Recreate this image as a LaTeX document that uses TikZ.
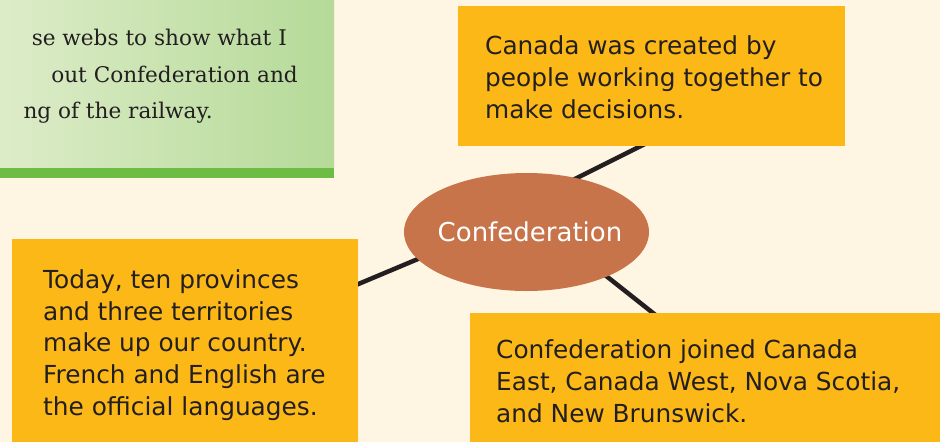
\documentclass[tikz,border=0pt]{standalone}
\usepackage{fontspec}
\setmainfont{DejaVu Serif}
\newfontfamily\boxfont{DejaVu Sans}
\usetikzlibrary{calc,backgrounds,shapes.geometric}
\definecolor{bg}{HTML}{FEF5E2}
\definecolor{amber}{HTML}{FCB817}
\definecolor{clay}{HTML}{C8744A}
\definecolor{ink}{HTML}{231F20}
\definecolor{greenL}{HTML}{DDECC8}
\definecolor{greenR}{HTML}{B5DA98}
\definecolor{bar}{HTML}{6DBD45}
\begin{document}
\begin{tikzpicture}[x=1pt,y=-1pt,
  card/.style={fill=amber, draw=none, anchor=north west, inner sep=0pt},
  cardtext/.style={font=\boxfont\fontsize{24.8}{31.6}\selectfont, text=ink, align=left, anchor=base west, inner sep=0pt},
  introtext/.style={font=\fontsize{21.6}{37}\selectfont, text=ink, anchor=base east, inner sep=0pt},
  link/.style={line width=4.5pt, draw=ink, shorten <=-8pt, shorten >=-12pt}]
\useasboundingbox (0,0) rectangle (940,442);
% intro panel
\shade[left color=greenL, right color=greenR] (0,0) rectangle (334,168);
\fill[bar] (0,168) rectangle (334,178);
\begin{scope}
\clip (0,0) rectangle (334,168);
\node[introtext] (i1) at (287,45) {se webs to show what I};
\node[introtext] (i2) at (298,82) {out Confederation and};
\node[introtext] (i3) at (213,118) {ng of the railway.};
\end{scope}
% cards
\node[card, minimum width=387pt, minimum height=140pt] (top) at (458,6) {};
\node[card, minimum width=346pt, minimum height=203pt] (left) at (12,239) {};
\node[card, minimum width=470pt, minimum height=129pt] (right) at (470,313) {};
% multi-line nodes: base anchor = baseline of the last line
\node[cardtext] (ttop) at (485,118) {Canada was created by\\people working together to\\make decisions.};
\node[cardtext] (tleft) at (43,415) {Today, ten provinces\\and three territories\\make up our country.\\French and English are\\the official languages.};
\node[cardtext] (tright) at (496,422) {Confederation joined Canada\\East, Canada West, Nova Scotia,\\and New Brunswick.};
% centre
\node[ellipse, fill=clay, inner sep=0pt, minimum width=245pt, minimum height=118pt,
      text=white, font=\boxfont\fontsize{26}{30}\selectfont] (ell) at (526.5,232) {\makebox[0pt]{\hspace{7pt}Confederation}};
\begin{pgfonlayer}{background}
\fill[bg] (0,0) rectangle (940,442);
\draw[link] (ell.47) -- ($(top.south west)+(182,0)$);
\draw[link] (ell.194) -- ($(left.north east)+(0,45)$);
\draw[link] (ell.331) -- ($(right.north west)+(183,0)$);
\end{pgfonlayer}
\end{tikzpicture}
\end{document}
